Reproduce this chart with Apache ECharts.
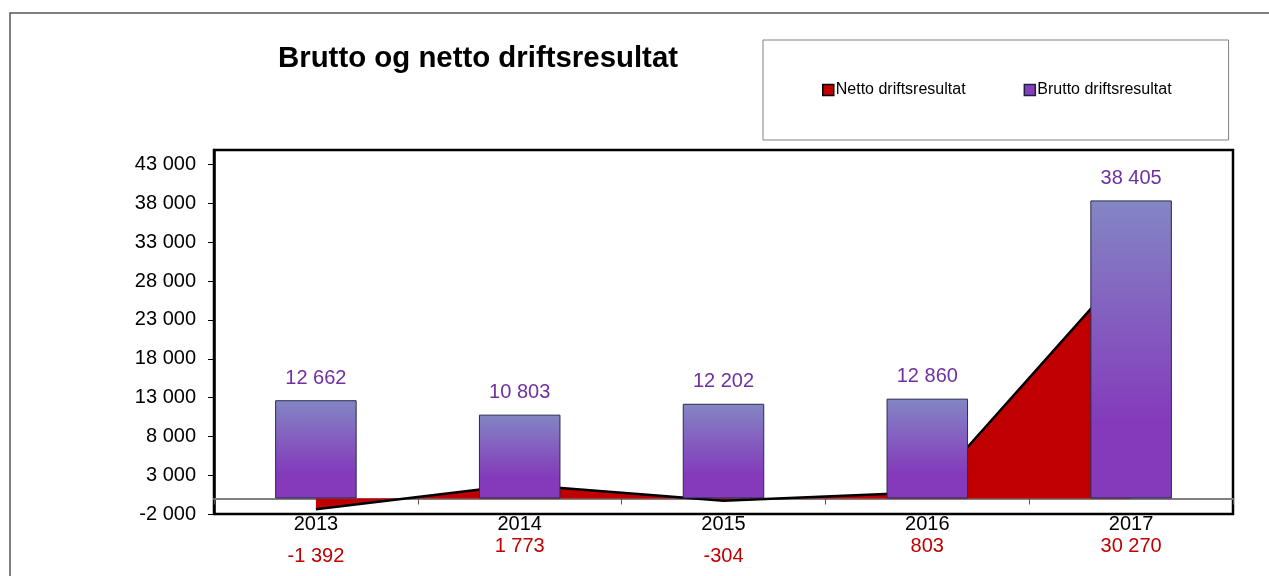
<!DOCTYPE html>
<html lang="no">
<head>
<meta charset="UTF-8">
<title>Brutto og netto driftsresultat</title>
<script src="https://cdn.jsdelivr.net/npm/echarts@6/dist/echarts.min.js"></script>
<style>
	html, body { margin:0; padding:0; background:#fff; }
	#chart { width:1269px; height:576px; }
</style>
</head>
<body>
<div id="chart"></div>
<script>
	// data
	var years = ['2013', '2014', '2015', '2016', '2017'];
	var netto = [-1392, 1773, -304, 803, 30270];
	var brutto = [12662, 10803, 12202, 12860, 38405];
	var yTicks = [-2000, 3000, 8000, 13000, 18000, 23000, 28000, 33000, 38000, 43000];
	var seriesNames = ['Netto driftsresultat', 'Brutto driftsresultat'];

	var font = "'Liberation Sans', Arial, sans-serif";

	// 12345 -> "12 345"
	function fmt(v) {
		var s = String(Math.abs(v)).replace(/\B(?=(\d{3})+(?!\d))/g, ' ');
		return v < 0 ? '-' + s : s;
	}

	var chart = echarts.init(document.getElementById('chart'));
	var option = {
		animation: false,
		backgroundColor: '#fff',
		graphic: [{
			type: 'rect',
			shape: { x: 10, y: 13, width: 1300, height: 600 },
			style: { fill: 'none', stroke: '#555', lineWidth: 1.5 },
			silent: true
		}],
		title: {
			text: 'Brutto og netto driftsresultat',
			left: 278,
			top: 44,
			padding: 0,
			textStyle: { fontFamily: font, fontSize: 29.4, fontWeight: 'bold', color: '#000' }
		},
		legend: {
			left: 763,
			top: 40,
			padding: [42, 57, 42, 59],
			borderColor: '#808080',
			borderWidth: 1,
			icon: 'rect',
			itemWidth: 11,
			itemHeight: 11,
			itemGap: 58,
			textStyle: { fontFamily: font, fontSize: 16, color: '#000', padding: [0, 0, 0, -3] },
			data: [
				{ name: seriesNames[0], itemStyle: { color: '#C00000', borderColor: '#000', borderWidth: 1.5 } },
				{ name: seriesNames[1], itemStyle: { color: '#8440BE', borderColor: '#202040', borderWidth: 1.5 } }
			]
		},
		grid: {
			left: 214,
			right: 36,
			top: 150,
			bottom: 62,
			show: true,
			borderColor: '#000',
			borderWidth: 2.5
		},
		xAxis: [
			{
				// axis line on zero, ticks between years
				type: 'category',
				data: years,
				position: 'bottom',
				axisLine: { onZero: true, lineStyle: { color: '#808080', width: 2 } },
				axisTick: { show: true, length: 6, lineStyle: { color: '#555', width: 1 } },
				axisLabel: { show: false },
				splitLine: { show: false }
			},
			{
				// labels at the bottom of the plot area
				type: 'category',
				data: years,
				position: 'bottom',
				axisLine: { show: false, onZero: false },
				axisTick: { show: false },
				axisLabel: {
					margin: -1,
					fontFamily: font,
					formatter: function (v, i) {
						var n = netto[i];
						return '{year|' + v + '}\n{' + (n < 0 ? 'neg' : 'pos') + '|' + fmt(n) + '}';
					},
					rich: {
						year: { fontFamily: font, fontSize: 20, color: '#000', lineHeight: 22 },
						pos: { fontFamily: font, fontSize: 20, color: '#C00000', lineHeight: 22 },
						neg: { fontFamily: font, fontSize: 20, color: '#C00000', lineHeight: 42 }
					}
				},
				splitLine: { show: false }
			}
		],
		yAxis: {
			type: 'value',
			min: -2000,
			max: 44900,
			axisLine: { show: true, lineStyle: { color: '#000', width: 2.5 } },
			axisTick: { show: true, length: 6, customValues: yTicks, lineStyle: { color: '#000', width: 1 } },
			splitLine: { show: false },
			axisLabel: {
				margin: 18,
				fontFamily: font,
				fontSize: 20,
				color: '#000',
				customValues: yTicks,
				formatter: function (v) { return fmt(v); }
			}
		},
		series: [
			{
				name: seriesNames[0],
				type: 'line',
				xAxisIndex: 0,
				data: netto,
				symbol: 'none',
				z: 2,
				itemStyle: { color: '#C00000' },
				lineStyle: { color: '#000', width: 2.5 },
				areaStyle: { color: '#C00000', opacity: 1 }
			},
			{
				name: seriesNames[1],
				type: 'bar',
				xAxisIndex: 0,
				data: brutto,
				barWidth: '40%',
				z: 3,
				itemStyle: {
					color: new echarts.graphic.LinearGradient(0, 0, 0, 1, [
						{ offset: 0, color: '#8386C4' },
						{ offset: 0.75, color: '#843ABB' },
						{ offset: 1, color: '#843ABB' }
					]),
					borderColor: '#2A2A50',
					borderWidth: 1
				},
				label: {
					show: true,
					position: 'top',
					distance: 12,
					fontFamily: font,
					fontSize: 20,
					color: '#7030A0',
					formatter: function (p) { return fmt(p.value); }
				}
			}
		]
	};
	chart.setOption(option);
</script>
</body>
</html>
